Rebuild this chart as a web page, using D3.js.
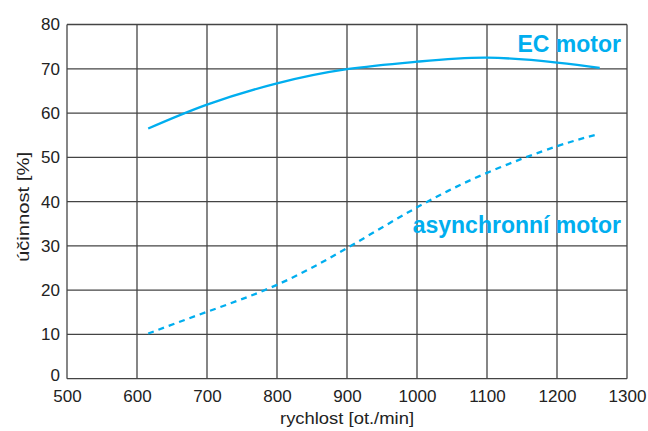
<!DOCTYPE html>
<html>
<head>
<meta charset="utf-8">
<script src="https://cdn.jsdelivr.net/npm/d3@7"></script>
<style>
  body { margin: 0; background: #fff; }
  text { font-family: "Liberation Sans", Arial, sans-serif; }
</style>
</head>
<body>
<div id="chart"></div>
<script>
// values
const ecRpm = [616, 700, 800, 900, 1000, 1100, 1200, 1261];
const ecEff = [56.5, 61.9, 66.7, 69.9, 71.6, 72.5, 71.4, 70.2];
const asyncRpm = [616, 700, 800, 900, 1000, 1100, 1200, 1259];
const asyncEff = [10.2, 15.1, 21.2, 29.5, 38.7, 46.5, 52.5, 55.2];
const xTicks = [500, 600, 700, 800, 900, 1000, 1100, 1200, 1300];
const yTicks = [0, 10, 20, 30, 40, 50, 60, 70, 80];

const width = 648, height = 431;
const margin = { top: 24.5, right: 21, bottom: 52.3, left: 67 };
const blue = "#00aeef";

const svg = d3.select("#chart")
  .append("svg")
  .attr("width", width)
  .attr("height", height);

const x = d3.scaleLinear().domain([500, 1300]).range([margin.left, width - margin.right]);
const y = d3.scaleLinear().domain([0, 80]).range([height - margin.bottom, margin.top]);

// grid
const grid = svg.append("g").attr("stroke", "#444").attr("stroke-width", 1.3);
grid.selectAll(".vx")
  .data(xTicks)
  .enter()
  .append("line")
  .attr("x1", d => x(d)).attr("x2", d => x(d))
  .attr("y1", y(0)).attr("y2", y(80));
grid.selectAll(".hy")
  .data(yTicks)
  .enter()
  .append("line")
  .attr("y1", d => y(d)).attr("y2", d => y(d))
  .attr("x1", x(500)).attr("x2", x(1300));

// axes (labels only)
const xAxis = svg.append("g")
  .attr("transform", `translate(0,${y(0)})`)
  .call(d3.axisBottom(x).tickValues(xTicks).tickSize(0).tickPadding(11).tickFormat(d3.format("d")));
const yAxis = svg.append("g")
  .attr("transform", `translate(${x(500)},0)`)
  .call(d3.axisLeft(y).tickValues(yTicks).tickSize(0).tickPadding(7).tickFormat(d3.format("d")));
[xAxis, yAxis].forEach(a => {
  a.select(".domain").remove();
  a.selectAll("text")
    .attr("font-family", "'Liberation Sans', Arial, sans-serif")
    .attr("font-size", 17)
    .attr("fill", "#222");
});
// lift the "0" a little so it clears "500"
yAxis.selectAll(".tick text").filter(d => d === 0).attr("dy", "0.1em");

// axis titles
svg.append("text")
  .attr("x", 347)
  .attr("y", 424)
  .attr("text-anchor", "middle")
  .attr("font-size", 17)
  .attr("textLength", 134)
  .attr("lengthAdjust", "spacingAndGlyphs")
  .attr("fill", "#222")
  .text("rychlost [ot./min]");

svg.append("text")
  .attr("transform", "translate(28.5,207) rotate(-90)")
  .attr("text-anchor", "middle")
  .attr("font-size", 16)
  .attr("textLength", 110)
  .attr("lengthAdjust", "spacingAndGlyphs")
  .attr("fill", "#222")
  .text("účinnost [%]");

// curves
const line = d3.line()
  .x(d => x(d[0]))
  .y(d => y(d[1]))
  .curve(d3.curveNatural);

svg.append("path")
  .datum(d3.zip(ecRpm, ecEff))
  .attr("d", line)
  .attr("fill", "none")
  .attr("stroke", blue)
  .attr("stroke-width", 2.3);

svg.append("path")
  .datum(d3.zip(asyncRpm, asyncEff))
  .attr("d", line)
  .attr("fill", "none")
  .attr("stroke", blue)
  .attr("stroke-width", 2.3)
  .attr("stroke-dasharray", "6,5");

// series labels
svg.append("text")
  .attr("x", 621)
  .attr("y", 51.5)
  .attr("text-anchor", "end")
  .attr("font-size", 23)
  .attr("font-weight", 700)
  .attr("fill", blue)
  .text("EC motor");

svg.append("text")
  .attr("x", 621)
  .attr("y", 233)
  .attr("text-anchor", "end")
  .attr("font-size", 23)
  .attr("font-weight", 700)
  .attr("fill", blue)
  .text("asynchronní motor");
</script>
</body>
</html>
